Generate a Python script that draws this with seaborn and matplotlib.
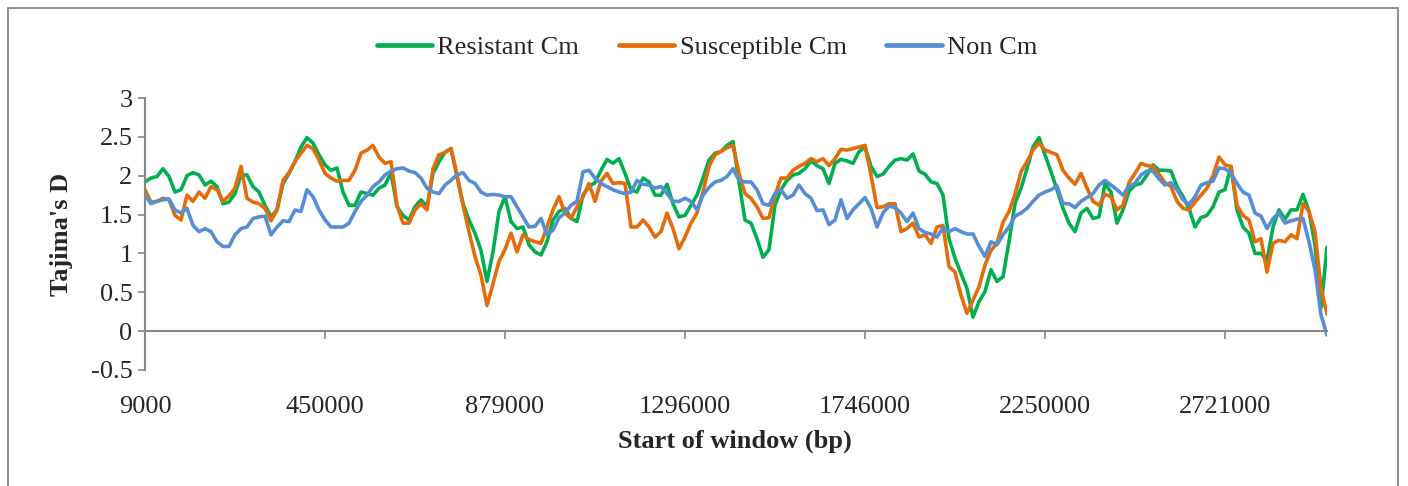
import numpy as np
import pandas as pd
import matplotlib
matplotlib.use("Agg")
import matplotlib.pyplot as plt
from matplotlib.lines import Line2D
from matplotlib.patches import Rectangle
import seaborn as sns

series_names = ["Resistant Cm", "Susceptible Cm", "Non Cm"]
series_colors = ["#00B050", "#E46C0A", "#558ED5"]
tick_labels = ["9000", "450000", "879000", "1296000", "1746000", "2250000", "2721000"]
tick_step = 30  # windows between labelled categories

resistant = [
    1.92, 1.97, 1.99, 2.09, 1.99, 1.79, 1.82, 2.00, 2.04, 2.01,
    1.88, 1.93, 1.86, 1.64, 1.66, 1.77, 2.01, 2.01, 1.86, 1.79,
    1.62, 1.47, 1.56, 1.90, 2.03, 2.18, 2.37, 2.49, 2.42, 2.27,
    2.14, 2.07, 2.10, 1.79, 1.62, 1.62, 1.79, 1.77, 1.75, 1.84,
    1.88, 2.04, 1.60, 1.49, 1.43, 1.60, 1.69, 1.60, 2.03, 2.18,
    2.30, 2.35, 1.99, 1.64, 1.43, 1.26, 1.04, 0.64, 1.02, 1.54,
    1.73, 1.41, 1.32, 1.34, 1.11, 1.02, 0.98, 1.15, 1.43, 1.54,
    1.58, 1.45, 1.41, 1.75, 1.86, 1.91, 2.07, 2.21, 2.16, 2.22,
    2.03, 1.82, 1.79, 1.97, 1.92, 1.75, 1.75, 1.89, 1.64, 1.47,
    1.49, 1.62, 1.75, 1.97, 2.20, 2.29, 2.31, 2.39, 2.44, 1.92,
    1.43, 1.39, 1.19, 0.95, 1.05, 1.62, 1.82, 1.94, 2.01, 2.03,
    2.09, 2.19, 2.13, 2.09, 1.90, 2.16, 2.21, 2.19, 2.16, 2.31,
    2.37, 2.12, 1.99, 2.02, 2.12, 2.20, 2.22, 2.20, 2.28, 2.06,
    2.02, 1.92, 1.90, 1.75, 1.19, 0.94, 0.74, 0.55, 0.18, 0.38,
    0.51, 0.79, 0.64, 0.70, 1.15, 1.64, 1.84, 2.09, 2.37, 2.49,
    2.27, 2.05, 1.82, 1.58, 1.39, 1.28, 1.52, 1.58, 1.45, 1.47,
    1.90, 1.79, 1.39, 1.56, 1.80, 1.88, 1.90, 2.01, 2.14, 2.07,
    2.07, 2.06, 1.86, 1.73, 1.58, 1.34, 1.46, 1.49, 1.60, 1.79,
    1.82, 2.12, 1.56, 1.34, 1.26, 1.00, 1.00, 0.91, 1.34, 1.56,
    1.44, 1.56, 1.56, 1.76, 1.54, 1.11, 0.30, 1.08,
]

susceptible = [
    1.82, 1.66, 1.67, 1.71, 1.69, 1.49, 1.43, 1.75, 1.67, 1.79,
    1.71, 1.86, 1.82, 1.67, 1.74, 1.84, 2.12, 1.71, 1.66, 1.64,
    1.58, 1.42, 1.56, 1.94, 2.04, 2.18, 2.29, 2.39, 2.35, 2.20,
    2.03, 1.97, 1.93, 1.94, 1.94, 2.07, 2.29, 2.33, 2.39, 2.24,
    2.16, 2.18, 1.62, 1.39, 1.39, 1.56, 1.64, 1.56, 2.09, 2.27,
    2.30, 2.35, 2.01, 1.62, 1.28, 0.96, 0.72, 0.33, 0.61, 0.90,
    1.05, 1.26, 1.02, 1.24, 1.18, 1.15, 1.13, 1.34, 1.56, 1.73,
    1.52, 1.45, 1.60, 1.73, 1.90, 1.67, 1.93, 2.03, 1.90, 1.91,
    1.90, 1.34, 1.34, 1.43, 1.34, 1.21, 1.28, 1.52, 1.32, 1.06,
    1.21, 1.39, 1.52, 1.79, 2.12, 2.27, 2.31, 2.36, 2.39, 2.03,
    1.77, 1.71, 1.60, 1.45, 1.46, 1.75, 1.97, 1.97, 2.07, 2.12,
    2.16, 2.22, 2.18, 2.22, 2.13, 2.22, 2.34, 2.33, 2.35, 2.37,
    2.39, 2.01, 1.59, 1.60, 1.64, 1.64, 1.28, 1.32, 1.39, 1.21,
    1.24, 1.13, 1.34, 1.36, 0.83, 0.76, 0.46, 0.23, 0.40, 0.57,
    0.85, 1.04, 1.13, 1.40, 1.54, 1.76, 2.05, 2.18, 2.33, 2.42,
    2.33, 2.30, 2.27, 2.07, 1.97, 1.89, 2.03, 1.84, 1.67, 1.62,
    1.76, 1.73, 1.56, 1.62, 1.91, 2.03, 2.16, 2.13, 2.12, 2.02,
    1.91, 1.86, 1.67, 1.58, 1.56, 1.66, 1.75, 1.84, 2.00, 2.24,
    2.14, 2.12, 1.62, 1.49, 1.43, 1.15, 1.19, 0.76, 1.13, 1.17,
    1.15, 1.24, 1.19, 1.64, 1.54, 1.28, 0.55, 0.22,
]

non_cm = [
    1.75, 1.64, 1.67, 1.69, 1.70, 1.56, 1.52, 1.58, 1.36, 1.28,
    1.32, 1.28, 1.15, 1.09, 1.09, 1.24, 1.32, 1.34, 1.45, 1.47,
    1.48, 1.24, 1.34, 1.42, 1.41, 1.56, 1.54, 1.82, 1.73, 1.56,
    1.43, 1.34, 1.34, 1.34, 1.39, 1.54, 1.67, 1.75, 1.86, 1.92,
    2.01, 2.06, 2.09, 2.10, 2.06, 2.04, 1.97, 1.84, 1.79, 1.77,
    1.88, 1.94, 2.01, 2.04, 1.94, 1.90, 1.79, 1.75, 1.76, 1.75,
    1.73, 1.73, 1.60, 1.47, 1.34, 1.35, 1.45, 1.24, 1.30, 1.46,
    1.52, 1.62, 1.67, 2.05, 2.07, 1.97, 1.90, 1.86, 1.82, 1.79,
    1.77, 1.79, 1.94, 1.89, 1.88, 1.84, 1.86, 1.77, 1.67, 1.67,
    1.71, 1.67, 1.56, 1.75, 1.85, 1.92, 1.94, 1.99, 2.09, 1.94,
    1.92, 1.92, 1.82, 1.64, 1.62, 1.77, 1.82, 1.71, 1.75, 1.88,
    1.77, 1.71, 1.55, 1.56, 1.37, 1.43, 1.69, 1.45, 1.56, 1.64,
    1.72, 1.58, 1.34, 1.52, 1.61, 1.59, 1.52, 1.41, 1.52, 1.32,
    1.27, 1.25, 1.21, 1.33, 1.28, 1.32, 1.28, 1.25, 1.25, 1.09,
    0.96, 1.15, 1.11, 1.24, 1.34, 1.48, 1.52, 1.58, 1.67, 1.75,
    1.79, 1.82, 1.87, 1.64, 1.64, 1.59, 1.67, 1.72, 1.77, 1.88,
    1.94, 1.88, 1.82, 1.75, 1.87, 1.90, 2.01, 2.06, 2.06, 1.96,
    1.88, 1.91, 1.82, 1.69, 1.63, 1.73, 1.88, 1.91, 1.93, 2.10,
    2.09, 2.03, 1.90, 1.79, 1.75, 1.52, 1.48, 1.32, 1.45, 1.52,
    1.39, 1.42, 1.44, 1.45, 1.15, 0.79, 0.21, -0.05,
]

window = np.arange(len(resistant))
df = pd.DataFrame({"window": window, series_names[0]: resistant,
                   series_names[1]: susceptible, series_names[2]: non_cm})
long = df.melt(id_vars="window", var_name="series", value_name="D")

sns.set_style("white")
plt.rcParams["font.family"] = ["Liberation Serif", "DejaVu Serif"]
grey = "#868686"
fs = 19

fig = plt.figure(figsize=(14.08, 4.86), dpi=100)
ax = fig.add_axes([145 / 1408, 1 - 370 / 486, (1327 - 145) / 1408, (370 - 98) / 486])

sns.lineplot(data=long, x="window", y="D", hue="series", hue_order=series_names,
             palette=series_colors, linewidth=2.6, legend=False, ax=ax)

ax.set_xlim(window[0], window[-1])
ax.set_ylim(-0.5, 3)
yt = np.arange(-0.5, 3.01, 0.5)
ax.set_yticks(yt)
ax.set_yticklabels([f"{v:g}" for v in yt], fontsize=fs)
ax.tick_params(axis="y", direction="out", length=5, width=1.2, color=grey, pad=4, left=True)

# category axis crosses at zero, labels stay at the bottom
ax.spines["bottom"].set_position(("data", 0))
ax.spines["bottom"].set_color(grey)
ax.spines["bottom"].set_linewidth(1.5)
ax.spines["left"].set_color(grey)
ax.spines["left"].set_linewidth(1.5)
ax.spines["top"].set_visible(False)
ax.spines["right"].set_visible(False)
ax.set_xticks(window[::tick_step])
ax.tick_params(axis="x", direction="out", length=6, width=1.2, color=grey,
               labelbottom=False, bottom=True)

sec = ax.secondary_xaxis("bottom")
sec.set_xticks(window[::tick_step])
sec.set_xticklabels(tick_labels, fontsize=fs)
sec.tick_params(length=0, pad=19)
sec.spines["bottom"].set_visible(False)

ax.set_xlabel("Start of window (bp)", fontsize=fs, fontweight="bold")
ax.xaxis.set_label_coords(0.499, -0.22)
ax.set_ylabel("Tajima's D", fontsize=fs, fontweight="bold")
ax.yaxis.set_label_coords(-0.061, 0.5)
ax.grid(False)

handles = [Line2D([], [], color=c, lw=3.4) for c in series_colors]
fig.legend(handles, series_names, loc="center", bbox_to_anchor=(707 / 1408, 1 - 47 / 486),
           ncol=3, frameon=False, fontsize=fs, handlelength=2.1, handletextpad=0.2,
           columnspacing=1.5)

fig.patches.append(Rectangle((8 / 1408, -0.1), (1398 - 8) / 1408, 1.1 - 8 / 486,
                             transform=fig.transFigure, fill=False, edgecolor=grey, lw=1.3))

fig.savefig("out.png", dpi=100)
